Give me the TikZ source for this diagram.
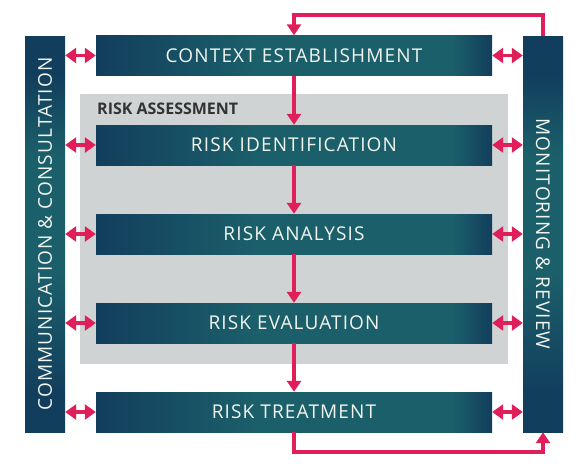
\documentclass[tikz,border=0pt]{standalone}
\usepackage{fontspec}
\setmainfont{Open Sans}[LetterSpace=6]
\newfontfamily\labelfont{Open Sans}[LetterSpace=0]
\usetikzlibrary{arrows.meta,calc}
\definecolor{navy}{HTML}{123E5D}
\definecolor{teal}{HTML}{1B5F6A}
\definecolor{riskred}{HTML}{E01E5A}
\definecolor{panelgray}{HTML}{D0D3D4}
\definecolor{txt}{HTML}{F2F5EE}
\pgfdeclarehorizontalshading{hbox}{100bp}{color(0bp)=(navy); color(25bp)=(navy); color(45bp)=(teal); color(70bp)=(teal); color(75bp)=(navy); color(100bp)=(navy)}
\pgfdeclareverticalshading{vbar}{100bp}{color(0bp)=(navy); color(30bp)=(navy); color(45bp)=(teal); color(60bp)=(teal); color(70bp)=(navy); color(100bp)=(navy)}
\tikzset{
  box/.style={shade, shading=hbox, minimum width=396pt, minimum height=40pt, inner sep=0pt, text=txt, font=\fontsize{19}{21}\selectfont},
  bar/.style={shade, shading=vbar, minimum width=40pt, minimum height=396pt, inner sep=0pt},
  bartext/.style={text=txt, font=\fontsize{19}{21}\selectfont},
  arr/.style={draw=riskred, line width=3.3pt, -{Triangle[length=11pt,width=14pt]}},
  dbl/.style={draw=riskred, line width=3.3pt, {Triangle[length=11pt,width=15pt]}-{Triangle[length=11pt,width=15pt]}}
}
\begin{document}
\begin{tikzpicture}[x=1pt,y=-1pt]
\useasboundingbox (0,0) rectangle (586,472);
\fill[panelgray] (80,94) rectangle (508,364);
\node[anchor=base west, text=black!80, font=\labelfont\bfseries\fontsize{16}{18}\selectfont, inner sep=0pt] (ra) at (97,114) {RISK ASSESSMENT};
\node[bar] (com) at (45,234) {};
\node[bar] (mon) at (543,234) {};
\node[bartext, rotate=90] (comt) at (com) {COMMUNICATION \& CONSULTATION};
\node[bartext, rotate=-90] (mont) at (mon) {MONITORING \& REVIEW};
\node[box] (ctx) at (294,55.5) {CONTEXT ESTABLISHMENT};
\node[box] (idf) at (294,145) {RISK IDENTIFICATION};
\node[box] (ana) at (294,234) {RISK ANALYSIS};
\node[box] (evl) at (294,323) {RISK EVALUATION};
\node[box] (trt) at (294,412) {RISK TREATMENT};
\coordinate (topy) at (0,15);
\coordinate (boty) at (0,452);
\draw[arr] (ctx.south) -- (idf.north);
\draw[arr] (idf.south) -- (ana.north);
\draw[arr] (ana.south) -- (evl.north);
\draw[arr] (evl.south) -- (trt.north);
\draw[arr] (mon.north) -- (mon.north |- topy) -- (ctx.north |- topy) -- (ctx.north);
\draw[arr] (trt.south) -- (trt.south |- boty) -- (mon.south |- boty) -- (mon.south);
\foreach \b in {ctx,idf,ana,evl,trt}{
  \draw[dbl] (com.east |- \b) -- (\b.west);
  \draw[dbl] (\b.east) -- (mon.west |- \b);
}
\end{tikzpicture}
\end{document}
